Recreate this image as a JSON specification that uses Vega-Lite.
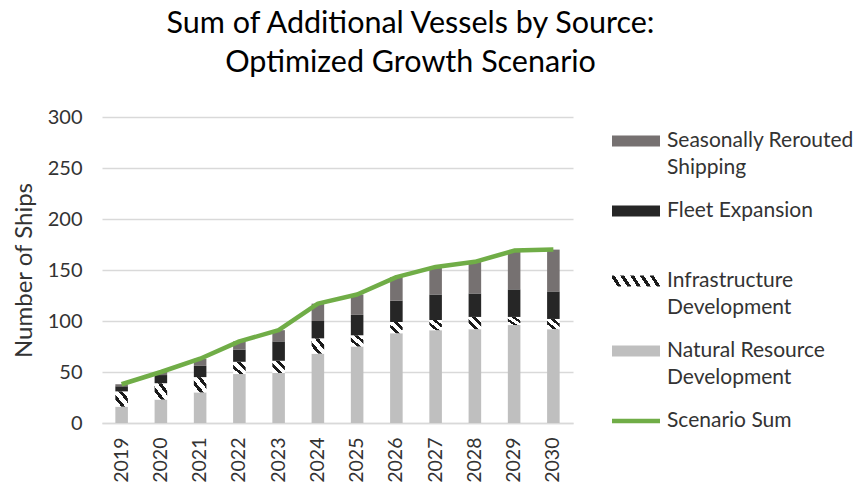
{
  "$schema": "https://vega.github.io/schema/vega-lite/v6.json",
  "width": 471,
  "height": 306,
  "autosize": {"type": "none"},
  "padding": {"left": 102, "top": 117, "right": 283, "bottom": 65},
  "background": "#ffffff",
  "config": {
    "view": {"stroke": null},
    "font": "Lato"
  },
  "title": {
    "text": ["Sum of Additional Vessels by Source:", "Optimized Growth Scenario"],
    "font": "Lato",
    "fontSize": 30.5,
    "fontWeight": "normal",
    "color": "#000000",
    "lineHeight": 39,
    "anchor": "middle",
    "dx": 73,
    "offset": 29
  },
  "datasets": {
    "bars": [
      {"year": "2019", "source": "Natural Resource Development", "value": 16},
      {"year": "2019", "source": "Infrastructure Development", "value": 15},
      {"year": "2019", "source": "Fleet Expansion", "value": 5},
      {"year": "2019", "source": "Seasonally Rerouted Shipping", "value": 2},
      {"year": "2020", "source": "Natural Resource Development", "value": 23},
      {"year": "2020", "source": "Infrastructure Development", "value": 16},
      {"year": "2020", "source": "Fleet Expansion", "value": 8},
      {"year": "2020", "source": "Seasonally Rerouted Shipping", "value": 3},
      {"year": "2021", "source": "Natural Resource Development", "value": 30},
      {"year": "2021", "source": "Infrastructure Development", "value": 15},
      {"year": "2021", "source": "Fleet Expansion", "value": 11},
      {"year": "2021", "source": "Seasonally Rerouted Shipping", "value": 7},
      {"year": "2022", "source": "Natural Resource Development", "value": 48},
      {"year": "2022", "source": "Infrastructure Development", "value": 12},
      {"year": "2022", "source": "Fleet Expansion", "value": 12},
      {"year": "2022", "source": "Seasonally Rerouted Shipping", "value": 8},
      {"year": "2023", "source": "Natural Resource Development", "value": 49},
      {"year": "2023", "source": "Infrastructure Development", "value": 12},
      {"year": "2023", "source": "Fleet Expansion", "value": 19},
      {"year": "2023", "source": "Seasonally Rerouted Shipping", "value": 11},
      {"year": "2024", "source": "Natural Resource Development", "value": 68},
      {"year": "2024", "source": "Infrastructure Development", "value": 15},
      {"year": "2024", "source": "Fleet Expansion", "value": 17},
      {"year": "2024", "source": "Seasonally Rerouted Shipping", "value": 17},
      {"year": "2025", "source": "Natural Resource Development", "value": 75},
      {"year": "2025", "source": "Infrastructure Development", "value": 11},
      {"year": "2025", "source": "Fleet Expansion", "value": 20},
      {"year": "2025", "source": "Seasonally Rerouted Shipping", "value": 20},
      {"year": "2026", "source": "Natural Resource Development", "value": 88},
      {"year": "2026", "source": "Infrastructure Development", "value": 11},
      {"year": "2026", "source": "Fleet Expansion", "value": 21},
      {"year": "2026", "source": "Seasonally Rerouted Shipping", "value": 23},
      {"year": "2027", "source": "Natural Resource Development", "value": 91},
      {"year": "2027", "source": "Infrastructure Development", "value": 10},
      {"year": "2027", "source": "Fleet Expansion", "value": 25},
      {"year": "2027", "source": "Seasonally Rerouted Shipping", "value": 27},
      {"year": "2028", "source": "Natural Resource Development", "value": 92},
      {"year": "2028", "source": "Infrastructure Development", "value": 12},
      {"year": "2028", "source": "Fleet Expansion", "value": 23},
      {"year": "2028", "source": "Seasonally Rerouted Shipping", "value": 31},
      {"year": "2029", "source": "Natural Resource Development", "value": 96},
      {"year": "2029", "source": "Infrastructure Development", "value": 8},
      {"year": "2029", "source": "Fleet Expansion", "value": 27},
      {"year": "2029", "source": "Seasonally Rerouted Shipping", "value": 38},
      {"year": "2030", "source": "Natural Resource Development", "value": 92},
      {"year": "2030", "source": "Infrastructure Development", "value": 10},
      {"year": "2030", "source": "Fleet Expansion", "value": 27},
      {"year": "2030", "source": "Seasonally Rerouted Shipping", "value": 41}
    ],
    "sum": [
      {"year": "2019", "value": 38},
      {"year": "2020", "value": 50},
      {"year": "2021", "value": 63},
      {"year": "2022", "value": 80},
      {"year": "2023", "value": 91},
      {"year": "2024", "value": 117},
      {"year": "2025", "value": 126},
      {"year": "2026", "value": 143},
      {"year": "2027", "value": 153},
      {"year": "2028", "value": 158},
      {"year": "2029", "value": 169},
      {"year": "2030", "value": 170}
    ]
  },
  "encoding": {
    "x": {
      "field": "year",
      "type": "ordinal",
      "scale": {"paddingInner": 0.68, "paddingOuter": 0.34},
      "axis": {
        "title": null,
        "labelAngle": -90,
        "labelPadding": 14,
        "ticks": false,
        "domain": true,
        "domainColor": "#d9d9d9",
        "domainWidth": 1.3,
        "labelFont": "Lato",
        "labelFontSize": 19.5,
        "labelColor": "#333333"
      }
    },
    "y": {
      "field": "value",
      "type": "quantitative",
      "scale": {"domain": [0, 300]},
      "axis": {
        "title": "Number of Ships",
        "values": [0, 50, 100, 150, 200, 250, 300],
        "ticks": false,
        "domain": false,
        "gridColor": "#d9d9d9",
        "gridWidth": 1.3,
        "labelPadding": 20,
        "labelFont": "Lato",
        "labelFontSize": 20,
        "labelColor": "#333333",
        "titlePadding": 11,
        "titleFont": "Lato",
        "titleFontSize": 24,
        "titleFontWeight": "normal",
        "titleColor": "#333333"
      }
    }
  },
  "layer": [
    {
      "data": {"name": "bars"},
      "transform": [
        {"calculate": "indexof(['Seasonally Rerouted Shipping', 'Fleet Expansion', 'Infrastructure Development', 'Natural Resource Development'], datum.source)", "as": "stackOrder"}
      ],
      "mark": {"type": "bar"},
      "encoding": {
        "y": {"field": "value", "type": "quantitative", "stack": "zero"},
        "order": {"field": "stackOrder", "type": "quantitative", "sort": "descending"},
        "color": {
          "condition": {
            "test": "datum.source === 'Infrastructure Development'",
            "value": {
              "gradient": "linear",
              "x1": 0, "y1": 1, "x2": 1, "y2": 0,
              "stops": [
                {"offset": 0, "color": "#ffffff"},
                {"offset": 0.24, "color": "#ffffff"},
                {"offset": 0.24, "color": "#1a1a1a"},
                {"offset": 0.4, "color": "#1a1a1a"},
                {"offset": 0.4, "color": "#ffffff"},
                {"offset": 0.62, "color": "#ffffff"},
                {"offset": 0.62, "color": "#1a1a1a"},
                {"offset": 0.78, "color": "#1a1a1a"},
                {"offset": 0.78, "color": "#ffffff"},
                {"offset": 1, "color": "#ffffff"}
              ]
            }
          },
          "field": "source",
          "type": "nominal",
          "sort": ["Seasonally Rerouted Shipping", "Fleet Expansion", "Infrastructure Development", "Natural Resource Development", "Scenario Sum"],
          "scale": {
            "domain": ["Seasonally Rerouted Shipping", "Fleet Expansion", "Infrastructure Development", "Natural Resource Development", "Scenario Sum"],
            "range": [
              "#767171",
              "#262626",
              {"expr": "{gradient: 'linear', x1: 0, y1: 0.575, x2: 1, y2: 0.425, stops: [{offset: 0, color: '#ffffff'}, {offset: 0.05, color: '#ffffff'}, {offset: 0.05, color: '#1a1a1a'}, {offset: 0.13, color: '#1a1a1a'}, {offset: 0.13, color: '#ffffff'}, {offset: 0.25, color: '#ffffff'}, {offset: 0.25, color: '#1a1a1a'}, {offset: 0.33, color: '#1a1a1a'}, {offset: 0.33, color: '#ffffff'}, {offset: 0.45, color: '#ffffff'}, {offset: 0.45, color: '#1a1a1a'}, {offset: 0.53, color: '#1a1a1a'}, {offset: 0.53, color: '#ffffff'}, {offset: 0.65, color: '#ffffff'}, {offset: 0.65, color: '#1a1a1a'}, {offset: 0.73, color: '#1a1a1a'}, {offset: 0.73, color: '#ffffff'}, {offset: 0.85, color: '#ffffff'}, {offset: 0.85, color: '#1a1a1a'}, {offset: 0.93, color: '#1a1a1a'}, {offset: 0.93, color: '#ffffff'}, {offset: 1, color: '#ffffff'}]}"},
              "#bfbfbf",
              "#70ad47"
            ]
          },
          "legend": {
            "title": null,
            "orient": "right",
            "offset": 39,
            "padding": 0,
            "symbolType": "M-1,-0.23H1V0.23H-1Z",
            "symbolSize": 2304,
            "symbolStrokeWidth": 0,
            "labelFont": "Lato",
            "labelFontSize": 21,
            "labelColor": "#333333",
            "labelOffset": 7,
            "labelLimit": 300,
            "gridAlign": "all",
            "rowPadding": 9,
            "labelExpr": "datum.label == 'Seasonally Rerouted Shipping' ? ['Seasonally Rerouted', 'Shipping'] : datum.label == 'Infrastructure Development' ? ['Infrastructure', 'Development'] : datum.label == 'Natural Resource Development' ? ['Natural Resource', 'Development'] : datum.label",
            "encode": {
              "symbols": {
                "update": {
                  "shape": [
                    {"test": "datum.value === 'Scenario Sum'", "value": "M-1,-0.095H1V0.095H-1Z"},
                    {"value": "M-1,-0.23H1V0.23H-1Z"}
                  ],
                  "stroke": {"value": "transparent"},
                  "strokeWidth": {"value": 0},
                  "opacity": {"value": 1}
                }
              },
              "labels": {
                "update": {"lineHeight": {"value": 27}}
              }
            }
          }
        }
      }
    },
    {
      "data": {"name": "sum"},
      "mark": {"type": "line", "strokeWidth": 4.5, "strokeJoin": "round"},
      "encoding": {
        "color": {"datum": "Scenario Sum", "type": "nominal"}
      }
    }
  ]
}
